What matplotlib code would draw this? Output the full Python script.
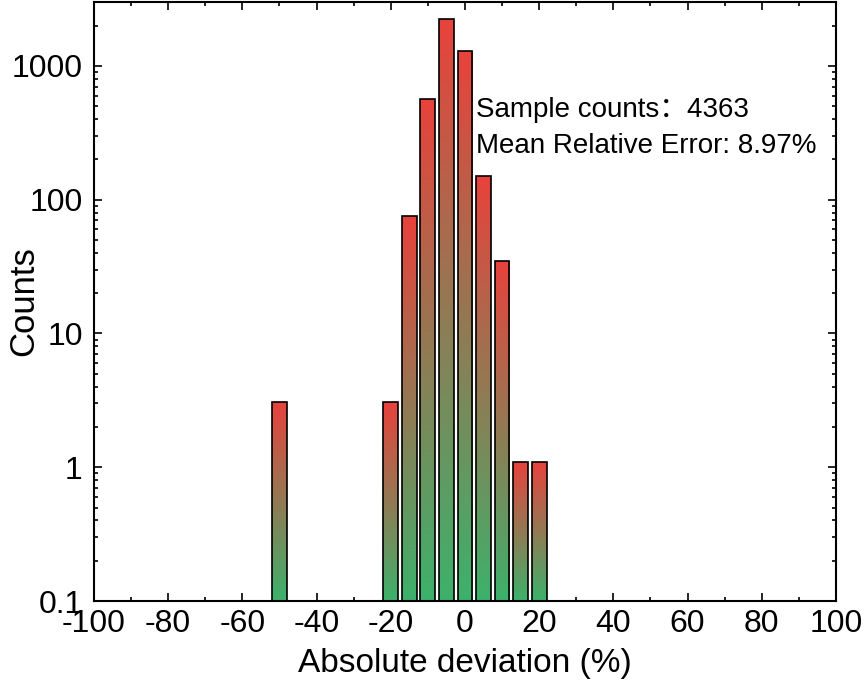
import matplotlib.pyplot as plt
import numpy as np
from matplotlib.colors import LinearSegmentedColormap
from matplotlib.ticker import FixedLocator, MultipleLocator, LogLocator, NullFormatter

plt.rcParams['font.family'] = ['Liberation Sans', 'Noto Sans CJK SC']
plt.rcParams['axes.unicode_minus'] = False

# data
deviation = [-50, -20, -15, -10, -5, 0, 5, 10, 15, 20]
counts = [3, 3, 75, 570, 2230, 1290, 150, 35, 1, 1]
x_ticks = [-100, -80, -60, -40, -20, 0, 20, 40, 60, 80, 100]
y_ticks = [0.1, 1, 10, 100, 1000]
y_labels = ["0.1", "1", "10", "100", "1000"]

rojo = "#e8423c"
verde = "#3cb26c"
cmap = LinearSegmentedColormap.from_list("rv", [verde, rojo])

fig = plt.figure(figsize=(8.67, 6.89), dpi=100)
ax = fig.add_axes([0.1084, 0.1277, 0.8558, 0.8693])
ax.set_yscale("log")
ax.set_xlim(-100, 100)
ax.set_ylim(0.1, 3000)

bars = ax.bar(deviation, counts, width=4, bottom=0.1, color="none",
              edgecolor="black", linewidth=1.2, zorder=3)

# gradient per bar, drawn in axes coords so it runs evenly on screen
to_axes = ax.transData + ax.transAxes.inverted()
grad = np.linspace(0, 1, 256).reshape(-1, 1)
for b in bars:
    x0 = b.get_x()
    x1 = x0 + b.get_width()
    y1 = b.get_y() + b.get_height()
    (ax0, ay0), (ax1, ay1) = to_axes.transform([(x0, 0.1), (x1, y1)])
    im = ax.imshow(grad, cmap=cmap, origin="lower", aspect="auto",
                   extent=(ax0, ax1, ay0, ay1), transform=ax.transAxes,
                   zorder=2, interpolation="bilinear")
    im.set_clip_path(b)

ax.set_xlim(-100, 100)
ax.set_ylim(0.1, 3000)

ax.xaxis.set_major_locator(FixedLocator(x_ticks))
ax.xaxis.set_minor_locator(MultipleLocator(10))
ax.yaxis.set_major_locator(FixedLocator(y_ticks))
ax.set_yticklabels(y_labels)
ax.yaxis.set_minor_locator(LogLocator(base=10, subs=np.arange(2, 10)))
ax.yaxis.set_minor_formatter(NullFormatter())

ax.tick_params(which="both", direction="in", top=True, right=True,
               labelsize=23, width=1.2)
ax.tick_params(axis="y", which="major", pad=8)
ax.tick_params(axis="x", which="major", pad=6)
ax.tick_params(which="major", length=6)
ax.tick_params(which="minor", length=3)
for s in ax.spines.values():
    s.set_linewidth(1.5)

ax.set_xlabel("Absolute deviation (%)", fontsize=24, labelpad=6)
ax.set_ylabel("Counts", fontsize=25)
ax.yaxis.set_label_coords(-0.072, 0.5)

ax.text(0.515, 0.82, "Sample counts：4363", transform=ax.transAxes,
        fontsize=20, va="center", ha="left")
ax.text(0.515, 0.76, "Mean Relative Error: 8.97%", transform=ax.transAxes,
        fontsize=20, va="center", ha="left")

fig.savefig("out.png", dpi=100)
